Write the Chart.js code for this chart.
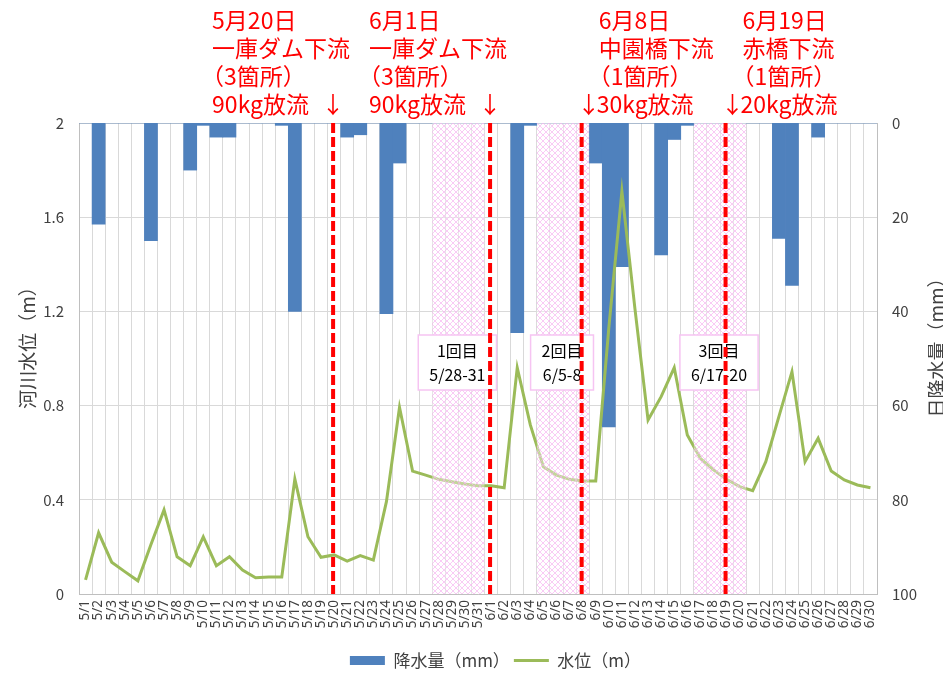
<!DOCTYPE html>
<html>
<head>
<meta charset="utf-8">
<script src="https://cdn.jsdelivr.net/npm/chart.js@4/dist/chart.umd.min.js"></script>
<style>
  html, body { margin: 0; padding: 0; background: #fff; }
  #wrap { width: 943px; height: 674px; }
</style>
</head>
<body>
<div id="wrap"><canvas id="chart" width="943" height="674"></canvas></div>
<script>
// --- DATA ---
const days = [
  '5/1','5/2','5/3','5/4','5/5','5/6','5/7','5/8','5/9','5/10',
  '5/11','5/12','5/13','5/14','5/15','5/16','5/17','5/18','5/19','5/20',
  '5/21','5/22','5/23','5/24','5/25','5/26','5/27','5/28','5/29','5/30','5/31',
  '6/1','6/2','6/3','6/4','6/5','6/6','6/7','6/8','6/9','6/10',
  '6/11','6/12','6/13','6/14','6/15','6/16','6/17','6/18','6/19','6/20',
  '6/21','6/22','6/23','6/24','6/25','6/26','6/27','6/28','6/29','6/30'
];

// daily rainfall (mm), right axis (reversed)
const rainfall = [
  0, 21.5, 0, 0, 0, 25, 0, 0, 10, 0.5,
  3, 3, 0, 0, 0, 0.5, 40, 0, 0, 0,
  3, 2.5, 0, 40.5, 8.5, 0, 0, 0, 0, 0, 0,
  0, 0, 44.5, 0.5, 0, 0, 0, 0, 8.5, 64.5,
  30.5, 0, 0, 28, 3.5, 0.5, 0, 0, 0, 0,
  0, 0, 24.5, 34.5, 0, 3, 0, 0, 0, 0
];

// river water level (m), left axis
const waterLevel = [
  0.06, 0.26, 0.135, 0.095, 0.056, 0.21, 0.357, 0.158, 0.12, 0.243,
  0.12, 0.158, 0.102, 0.069, 0.072, 0.072, 0.488, 0.243, 0.156, 0.166,
  0.14, 0.163, 0.144, 0.392, 0.793, 0.522, 0.505, 0.487, 0.477, 0.467, 0.46,
  0.46, 0.451, 0.961, 0.718, 0.54, 0.505, 0.487, 0.48, 0.48, 1.13,
  1.71, 1.21, 0.739, 0.838, 0.961, 0.675, 0.576, 0.527, 0.487, 0.456,
  0.439, 0.562, 0.753, 0.944, 0.562, 0.661, 0.522, 0.484, 0.463, 0.451
];

const levelTicks = [0, 0.4, 0.8, 1.2, 1.6, 2];
const rainTicks = [0, 20, 40, 60, 80, 100];

// release events (red dashed lines)
const releaseDays = ['5/20', '6/1', '6/8', '6/19'];
const releaseDates = ['5月20日', '6月1日', '6月8日', '6月19日'];
const releasePlaces = ['一庫ダム下流', '一庫ダム下流', '中園橋下流', '赤橋下流'];
const releaseSpots = ['（3箇所）', '（3箇所）', '（1箇所）', '（1箇所）'];
const releaseAmounts = ['90kg放流', '90kg放流', '30kg放流', '20kg放流'];
const arrowFirst = [false, false, true, true];

// survey periods (pink hatched)
const surveyFrom = ['5/28', '6/5', '6/17'];
const surveyTo = ['5/31', '6/8', '6/20'];
const surveyNames = ['1回目', '2回目', '3回目'];
const surveyRanges = ['5/28-31', '6/5-8', '6/17-20'];

const BLUE = '#4f81bd';
const GREEN = '#9bbb59';
const TXT = '#404040';
const GRID = '#d9d9d9';
const JP = '"Noto Sans CJK JP", "Noto Sans", sans-serif';

// --- HATCH PATTERN ---
function makeHatch(ctx) {
  const t = document.createElement('canvas');
  t.width = 6; t.height = 6;
  const c = t.getContext('2d');
  c.fillStyle = 'rgba(255,255,255,0.4)';
  c.fillRect(0, 0, 6, 6);
  c.strokeStyle = 'rgba(246,175,240,0.65)';
  c.lineWidth = 1;
  c.beginPath();
  c.moveTo(0, 0); c.lineTo(6, 6);
  c.moveTo(6, 0); c.lineTo(0, 6);
  c.stroke();
  return ctx.createPattern(t, 'repeat');
}

// --- OVERLAY PLUGIN ---
const overlay = {
  id: 'overlay',
  afterLayout(chart) {
    // nudge the legend a little right, like the original
    chart.legend.left += 24;
    chart.legend.right += 24;
  },
  afterDatasetsDraw(chart) {
    const { ctx, chartArea: a, scales } = chart;
    const x = scales.x;
    const step = x.getPixelForValue(1) - x.getPixelForValue(0);
    ctx.save();

    // survey periods
    const hatch = makeHatch(ctx);
    surveyFrom.forEach((d, i) => {
      const x0 = x.getPixelForValue(days.indexOf(d)) - step / 2;
      const x1 = x.getPixelForValue(days.indexOf(surveyTo[i])) + step / 2;
      ctx.fillStyle = hatch;
      ctx.fillRect(x0, a.top, x1 - x0, a.bottom - a.top);
    });

    // label boxes
    ctx.font = '16px ' + JP;
    surveyFrom.forEach((d, i) => {
      const x0 = x.getPixelForValue(days.indexOf(d)) - step / 2;
      const x1 = x.getPixelForValue(days.indexOf(surveyTo[i])) + step / 2;
      const cx = (x0 + x1) / 2 - 1;
      const w = Math.max(ctx.measureText(surveyRanges[i]).width, ctx.measureText(surveyNames[i]).width) + 22;
      const top = a.top + 212, h = 55;
      ctx.fillStyle = '#fff';
      ctx.fillRect(cx - w / 2, top, w, h);
      ctx.strokeStyle = '#f6c4f2';
      ctx.lineWidth = 1.5;
      ctx.strokeRect(cx - w / 2, top, w, h);
      ctx.fillStyle = '#000';
      ctx.textAlign = 'center';
      ctx.textBaseline = 'middle';
      ctx.fillText(surveyNames[i], cx, top + 16);
      ctx.fillText(surveyRanges[i], cx, top + 40);
    });

    // release lines
    ctx.strokeStyle = '#ff0000';
    ctx.lineWidth = 4;
    ctx.setLineDash([10, 4]);
    releaseDays.forEach(d => {
      const px = x.getPixelForValue(days.indexOf(d)) - 1;
      ctx.beginPath();
      ctx.moveTo(px, a.top);
      ctx.lineTo(px, a.bottom);
      ctx.stroke();
    });
    ctx.setLineDash([]);

    // release notes
    ctx.font = '23px ' + JP;
    ctx.fillStyle = '#ff0000';
    ctx.textBaseline = 'middle';
    releaseDays.forEach((d, i) => {
      const px = x.getPixelForValue(days.indexOf(d)) - 1;
      const left = arrowFirst[i] ? px + 17 : px - 121;
      ctx.textAlign = 'left';
      ctx.fillText(releaseDates[i], left, 20);
      ctx.fillText(releasePlaces[i], left, 48);
      ctx.fillText(releaseSpots[i], left - 11, 76);
      if (arrowFirst[i]) {
        ctx.textAlign = 'center';
        ctx.fillText('↓', px + 7, 104);
        ctx.textAlign = 'left';
        ctx.fillText(releaseAmounts[i], px + 15, 104);
      } else {
        ctx.fillText(releaseAmounts[i], left, 104);
        ctx.textAlign = 'center';
        ctx.fillText('↓', px, 104);
      }
    });

    // axis titles
    ctx.font = '19px ' + JP;
    ctx.fillStyle = TXT;
    ctx.textAlign = 'center';
    ctx.textBaseline = 'middle';
    ctx.save();
    ctx.translate(28, 343);
    ctx.rotate(-Math.PI / 2);
    ctx.fillText('河川水位（m）', 0, 0);
    ctx.restore();
    ctx.save();
    ctx.translate(937, 343);
    ctx.rotate(-Math.PI / 2);
    ctx.fillText('日降水量（mm）', 0, 0);
    ctx.restore();

    ctx.restore();
  }
};

// --- CHART ---
new Chart(document.getElementById('chart'), {
  type: 'bar',
  data: {
    labels: days,
    datasets: [
      {
        label: '降水量（mm）',
        data: rainfall,
        backgroundColor: BLUE,
        borderWidth: 0,
        barPercentage: 1,
        categoryPercentage: 1,
        yAxisID: 'y2',
        order: 1
      },
      {
        type: 'line',
        label: '水位（m）',
        data: waterLevel,
        borderColor: GREEN,
        backgroundColor: GREEN,
        borderWidth: 3,
        pointRadius: 0,
        tension: 0,
        yAxisID: 'y',
        order: 0
      }
    ]
  },
  options: {
    responsive: false,
    animation: false,
    layout: { padding: { top: 123, bottom: -5, left: 0, right: 0 } },
    plugins: {
      tooltip: { enabled: false },
      legend: {
        position: 'bottom',
        labels: {
          color: TXT,
          font: { family: JP, size: 17 },
          usePointStyle: true,
          pointStyleWidth: 35,
          boxHeight: 9,
          padding: 4,
          sort: (a, b) => a.datasetIndex - b.datasetIndex,
          generateLabels(chart) {
            const items = Chart.defaults.plugins.legend.labels.generateLabels(chart);
            return items.map(it => {
              if (it.datasetIndex === 0) {
                it.pointStyle = 'rect';
                it.fillStyle = BLUE;
                it.strokeStyle = BLUE;
                it.lineWidth = 0;
              } else {
                it.pointStyle = 'line';
                it.strokeStyle = GREEN;
                it.lineWidth = 3;
              }
              return it;
            });
          }
        }
      }
    },
    scales: {
      x: {
        offset: true,
        grid: { offset: true, color: GRID, drawTicks: false },
        border: { color: '#bfbfbf' },
        ticks: {
          autoSkip: false,
          minRotation: 90,
          maxRotation: 90,
          padding: 6,
          color: TXT,
          font: { family: '"Noto Sans", sans-serif', size: 13.5 }
        },
        afterFit(s) { s.height = 54; }
      },
      y: {
        position: 'left',
        min: 0,
        max: 2,
        afterBuildTicks(s) { s.ticks = levelTicks.map(v => ({ value: v })); },
        grid: { color: GRID, drawTicks: false },
        border: { color: '#bfbfbf' },
        ticks: {
          padding: 15,
          color: TXT,
          font: { family: JP, size: 15 },
          callback: v => String(v)
        },
        afterFit(s) { s.width = 79; }
      },
      y2: {
        position: 'right',
        reverse: true,
        min: 0,
        max: 100,
        afterBuildTicks(s) { s.ticks = rainTicks.map(v => ({ value: v })); },
        grid: { display: false, drawTicks: false },
        border: { color: '#bfbfbf' },
        ticks: {
          padding: 15,
          color: TXT,
          font: { family: JP, size: 15 },
          callback: v => String(v)
        },
        afterFit(s) { s.width = 66; }
      }
    }
  },
  plugins: [overlay]
});
</script>
</body>
</html>
